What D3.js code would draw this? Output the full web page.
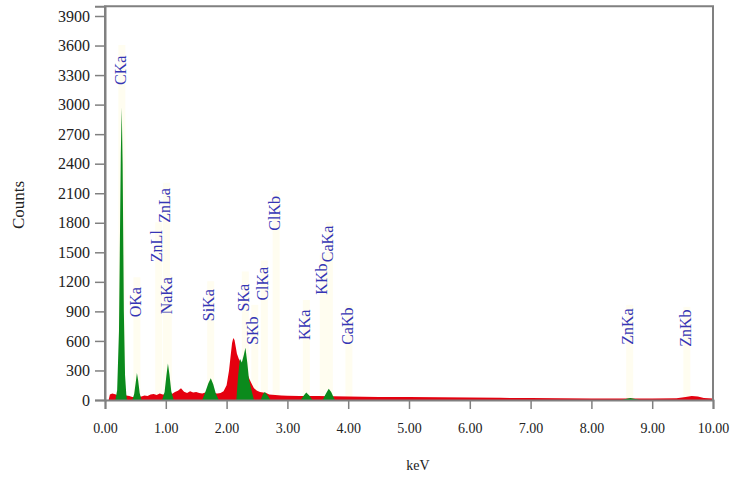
<!DOCTYPE html>
<html>
<head>
<meta charset="utf-8">
<script src="https://cdn.jsdelivr.net/npm/d3@7"></script>
<style>
  body { margin: 0; background: #fff; }
  text { font-family: "Liberation Serif", "Times New Roman", serif; }
</style>
</head>
<body>
<svg id="chart" width="737" height="477"></svg>
<script>
// EDS spectrum: full spectrum (red) with identified element peaks (green)
const spectrumKeV = [0.06, 0.08, 0.12, 0.18, 0.22, 0.35, 0.40, 0.45, 0.60, 0.65, 0.70, 0.75, 0.80, 0.85, 0.90, 0.95,
  1.10, 1.15, 1.20, 1.25, 1.30, 1.35, 1.40, 1.45, 1.50, 1.55, 1.60, 1.65, 1.85, 1.90, 1.95, 2.00, 2.04, 2.07,
  2.09, 2.11, 2.13, 2.15, 2.17, 2.20, 2.25, 2.30, 2.35, 2.40, 2.45, 2.50, 2.55, 2.65, 2.70, 2.80, 2.90, 3.00,
  3.20, 3.50, 4.00, 4.50, 5.00, 5.50, 6.00, 6.50, 7.00, 7.50, 8.00, 8.50, 9.00, 9.40, 9.55, 9.65, 9.75, 9.85, 10.0];
const spectrumCounts = [0, 55, 65, 55, 40, 45, 40, 30, 35, 45, 40, 55, 60, 50, 65, 55,
  60, 80, 95, 120, 85, 70, 90, 75, 80, 70, 65, 75, 65, 70, 90, 150, 300, 470,
  580, 630, 610, 540, 470, 420, 360, 300, 250, 180, 120, 95, 80, 70, 55, 50, 45, 42,
  40, 40, 35, 30, 30, 28, 25, 22, 20, 18, 16, 15, 15, 18, 30, 40, 35, 20, 15];

const peakKeV = [0.17, 0.20, 0.23, 0.26, 0.275, 0.29, 0.31, 0.33, 0.35, 0.36,
  0.45, 0.48, 0.51, 0.525, 0.545, 0.57, 0.60,
  0.94, 0.98, 1.01, 1.035, 1.06, 1.09, 1.13,
  1.60, 1.65, 1.70, 1.74, 1.78, 1.82, 1.87,
  2.16, 2.19, 2.22, 2.25, 2.28, 2.31, 2.34, 2.37, 2.41, 2.45,
  2.56, 2.60, 2.63, 2.67, 2.72,
  3.22, 3.27, 3.31, 3.36, 3.41,
  3.58, 3.63, 3.68, 3.72, 3.78,
  8.50, 8.60, 8.64, 8.70, 8.80];
const peakCounts = [0, 100, 700, 2500, 2970, 2400, 900, 250, 60, 0,
  0, 60, 200, 275, 200, 70, 0,
  0, 80, 250, 370, 260, 90, 0,
  0, 80, 170, 220, 160, 70, 0,
  0, 250, 420, 380, 450, 530, 380, 200, 100, 0,
  0, 60, 80, 50, 0,
  0, 45, 75, 45, 0,
  0, 60, 115, 80, 0,
  0, 15, 20, 12, 0];

// X-ray line markers: name, energy (keV) and the count level where each label starts
const lineNames = ["CKa", "OKa", "ZnLl", "ZnLa", "NaKa", "SiKa", "SKa", "SKb", "ClKa", "ClKb",
  "KKa", "KKb", "CaKa", "CaKb", "ZnKa", "ZnKb"];
const lineKeV = [0.277, 0.525, 0.884, 1.012, 1.041, 1.739, 2.307, 2.464, 2.621, 2.815,
  3.312, 3.589, 3.690, 4.012, 8.630, 9.570];
const lineLabelCounts = [3200, 840, 1400, 1800, 870, 800, 900, 560, 1010, 1720,
  610, 1070, 1400, 560, 560, 540];

const xTicks = [0, 1, 2, 3, 4, 5, 6, 7, 8, 9, 10];
const yTicks = [0, 300, 600, 900, 1200, 1500, 1800, 2100, 2400, 2700, 3000, 3300, 3600, 3900];

const svg = d3.select("#chart");
const x = d3.scaleLinear().domain([0, 10]).range([105, 713]);
const y = d3.scaleLinear().domain([0, 4000]).range([400, 6.15]);

// faint line marker strips
svg.append("g").selectAll("line").data(lineKeV).join("line")
  .attr("x1", d => x(d)).attr("x2", d => x(d))
  .attr("y1", (d, i) => y(lineLabelCounts[i]) - 40).attr("y2", y(0))
  .attr("stroke", "#fffdf0").attr("stroke-width", 7);

const area = d3.area().x(d => x(d[0])).y0(y(0)).y1(d => y(d[1]));
svg.append("path")
  .attr("d", area(d3.zip(spectrumKeV, spectrumCounts)))
  .attr("fill", "#e5000f");
svg.append("path")
  .attr("d", area(d3.zip(peakKeV, peakCounts)))
  .attr("fill", "#0b8a1c");

// frame
const frame = "#808080";
svg.append("path")
  .attr("d", `M${x(0)},${y(0)}V${y(4000)}H${x(10)}V${y(0)}`)
  .attr("fill", "none").attr("stroke", frame).attr("stroke-width", 2);

const yAxis = svg.append("g").attr("transform", `translate(${x(0)},0)`)
  .call(d3.axisLeft(y).tickValues(yTicks).tickSize(10).tickPadding(5).tickFormat(d => d));
const xAxis = svg.append("g").attr("transform", `translate(0,${y(0)})`)
  .call(d3.axisBottom(x).tickValues(xTicks).tickSize(9).tickPadding(14).tickFormat(d3.format(".2f")));
[yAxis, xAxis].forEach(g => {
  g.select(".domain").attr("stroke", frame).attr("stroke-width", 2);
  g.selectAll(".tick line").attr("stroke", frame).attr("stroke-width", 1.5);
  g.selectAll(".tick text").attr("fill", "#222").style("font-family", '"Liberation Serif", serif');
});
yAxis.selectAll(".tick text").style("font-size", "16px");
xAxis.selectAll(".tick text").style("font-size", "14px");

// line labels
svg.append("g").selectAll("text").data(lineNames).join("text")
  .attr("transform", (d, i) => `translate(${x(lineKeV[i])},${y(lineLabelCounts[i])}) rotate(-90)`)
  .attr("dominant-baseline", "middle")
  .attr("fill", "#3535b5")
  .style("font-size", "16px")
  .text(d => d);

svg.append("text")
  .attr("transform", "translate(20,205) rotate(-90)")
  .attr("text-anchor", "middle").attr("dominant-baseline", "middle")
  .attr("fill", "#222").style("font-size", "17px")
  .text("Counts");
svg.append("text")
  .attr("x", 418).attr("y", 467)
  .attr("text-anchor", "middle").attr("dominant-baseline", "middle")
  .attr("fill", "#222").style("font-size", "14px")
  .text("keV");
</script>
</body>
</html>
